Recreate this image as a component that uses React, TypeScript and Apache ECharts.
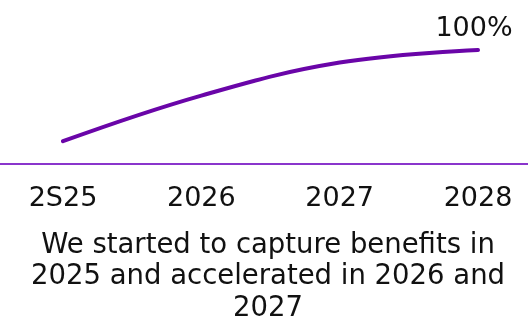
import React, { useEffect, useRef } from "react";
import * as echarts from "echarts";

const categories = ["2S25", "2026", "2027", "2028"];
const values = [20, 60, 89, 100];
const endLabel = "100%";
const caption = "We started to capture benefits in\n2025 and accelerated in 2026 and\n2027";

export default function App() {
  const ref = useRef<HTMLDivElement>(null);
  useEffect(() => {
    if (!ref.current) return;
    const chart = echarts.init(ref.current, null, { renderer: "svg" });
    const font = "DejaVu Sans";
    chart.setOption({
      animation: false,
      grid: { left: 63, right: 50, top: 50, bottom: 159 },
      xAxis: {
        type: "category",
        data: categories,
        boundaryGap: false,
        axisLine: { show: false },
        axisTick: { show: false },
        axisLabel: { color: "#111", fontSize: 27, fontFamily: font, margin: 19 },
      },
      yAxis: { type: "value", min: 0, max: 100, show: false },
      series: [
        {
          type: "line",
          smooth: 0.4,
          symbol: "circle",
          symbolSize: 0,
          showSymbol: true,
          itemStyle: { color: "#6a05a8" },
          lineStyle: { color: "#6a05a8", width: 4, cap: "round" },
          data: values.map((v, i) =>
            i === values.length - 1
              ? {
                  value: v,
                  label: {
                    show: true,
                    position: "top",
                    distance: 10,
                    offset: [-4, 0],
                    formatter: endLabel,
                    color: "#111",
                    fontSize: 27,
                    fontFamily: font,
                  },
                }
              : v
          ),
        },
      ],
      graphic: [
        {
          type: "line",
          shape: { x1: 0, y1: 164, x2: 528, y2: 164 },
          style: { stroke: "#8a35cc", lineWidth: 2 },
        },
        {
          type: "text",
          x: 268,
          y: 227,
          style: {
            text: caption,
            textAlign: "center",
            textVerticalAlign: "top",
            fontSize: 27.5,
            lineHeight: 31.5,
            fontFamily: font,
            fill: "#111",
          },
        },
      ],
    });
    return () => chart.dispose();
  }, []);
  return <div ref={ref} style={{ width: 528, height: 323, position: "fixed", left: 0, top: 0 }} />;
}
